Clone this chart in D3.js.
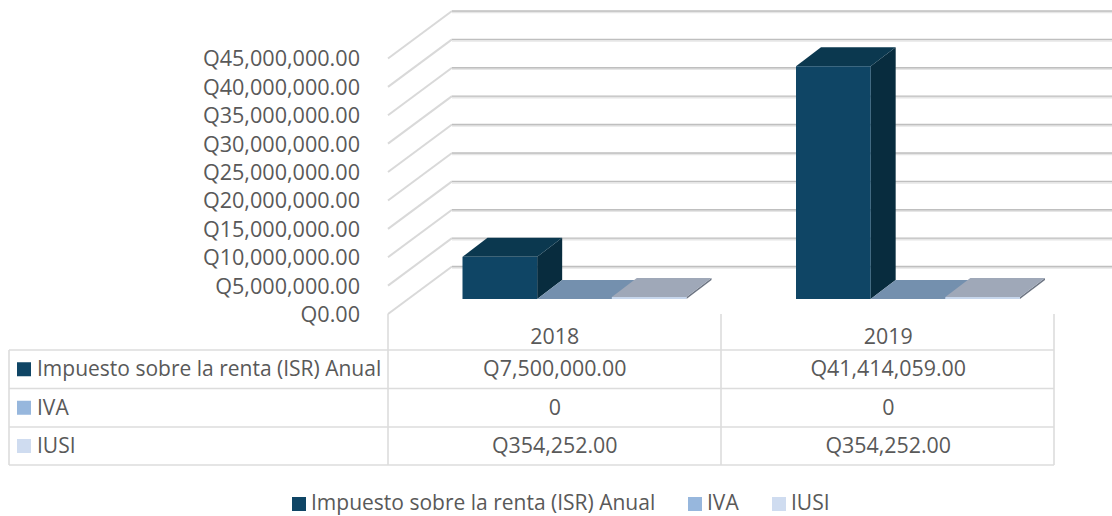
<!DOCTYPE html>
<html><head><meta charset="utf-8">
<script src="https://cdn.jsdelivr.net/npm/d3@7"></script>
<style>html,body{margin:0;padding:0;background:#fff}svg{display:block}text{font-family:"Open Sans",sans-serif;fill:#595959}</style>
</head><body><svg id="c" width="1112" height="516"></svg>
<script>
const categories=["2018","2019"];
const seriesNames=["Impuesto sobre la renta (ISR) Anual","IVA","IUSI"];
const isr=[7500000,41414059];
const iva=[0,0];
const iusi=[354252,354252];
const isrLabels=["Q7,500,000.00","Q41,414,059.00"];
const ivaLabels=["0","0"];
const iusiLabels=["Q354,252.00","Q354,252.00"];
const tickValues=[0,5e6,10e6,15e6,20e6,25e6,30e6,35e6,40e6,45e6];
const colors=["#0f4565","#97b7dd","#cfdcf0"];
const tops=["#0b384f","#7490ae","#9fa8b8"];
const sides=["#082c3e","#5f7690","#6d7583"];
const fronts=["#0f4565","#7f9fc4","#c6d6ec"];

const svg=d3.select("#c");
const fs=21, fsNum=21.4;
const left=388,right=1054,front0=314,frontTop=58.5,dx=64,dy=-47.5;
const y=d3.scaleLinear().domain([0,45e6]).range([front0,frontTop]);
const x=d3.scaleBand().domain(categories).range([left,right+1]);
const sx=d3.scaleBand().domain(seriesNames).range([74.5,298.5]);
const grid="#dcdcdc";

// walls
const g=svg.append("g");
tickValues.forEach(t=>{
  const yf=y(t),yb=yf+dy;
  g.append("path").attr("d",`M${left},${yf}L${left+dx},${yb}`).attr("fill","none").attr("stroke","#d9d9d9").attr("stroke-width",2);
  g.append("line").attr("x1",left+dx).attr("x2",1112).attr("y1",yb+1.2).attr("y2",yb+1.2).attr("stroke","#e6e6e6").attr("stroke-width",2.2);
  g.append("line").attr("x1",left+dx).attr("x2",1112).attr("y1",yb).attr("y2",yb).attr("stroke","#bfbfbf").attr("stroke-width",1.4);
});

// axis labels
const ax=svg.append("g").attr("transform","translate(360,0.5)").call(
  d3.axisLeft(y).tickValues(tickValues).tickSize(0).tickPadding(0)
    .tickFormat(d=>d===0?"Q0.00":"Q"+d3.format(",.2f")(d)));
ax.select(".domain").remove();
ax.selectAll("text").attr("font-size",21.6).style("font-family",'"Open Sans",sans-serif').style("fill","#595959");

// bars
const floorY=299,barDx=25,barDy=-19,pxPerUnit=5.62/1e6;
const series=[isr,iva,iusi];
series.forEach((vals,s)=>{
  vals.forEach((v,c)=>{
    const x0=x(categories[c])+sx(seriesNames[s]),w=sx.bandwidth();
    const h=v*pxPerUnit,t=floorY-h;
    const b=svg.append("g");
    b.append("path").attr("d",`M${x0+w},${t}L${x0+w+barDx},${t+barDy}L${x0+w+barDx},${floorY+barDy}L${x0+w},${floorY}Z`).attr("fill",sides[s]);
    b.append("path").attr("d",`M${x0},${t}L${x0+barDx},${t+barDy}L${x0+w+barDx},${t+barDy}L${x0+w},${t}Z`).attr("fill",tops[s]);
    if(h>0)b.append("rect").attr("x",x0).attr("y",t).attr("width",w).attr("height",h).attr("fill",fronts[s]);
  });
});

// data table
const rowsY=[350,388.5,427,465];
const tableLeft=9;
const line=(x1,y1,x2,y2)=>svg.append("line").attr("x1",x1).attr("y1",y1).attr("x2",x2).attr("y2",y2).attr("stroke",grid).attr("stroke-width",1.6);
rowsY.forEach(r=>line(tableLeft,r,right,r));
line(tableLeft,350,tableLeft,465);
[left,left+(right-left)/2,right].forEach(v=>line(v,314,v,465));
categories.forEach(c=>svg.append("text").attr("x",x(c)+x.bandwidth()/2).attr("y",344).attr("text-anchor","middle").attr("font-size",fsNum).text(c));
const tableLabels=[isrLabels,ivaLabels,iusiLabels];
seriesNames.forEach((n,i)=>{
  const mid=(rowsY[i]+rowsY[i+1])/2;
  svg.append("rect").attr("x",17).attr("y",mid-7).attr("width",14).attr("height",14).attr("fill",colors[i]);
  svg.append("text").attr("x",37).attr("y",mid+7).attr("font-size",fs).text(n);
  categories.forEach((c,j)=>svg.append("text").attr("x",x(c)+x.bandwidth()/2).attr("y",mid+7).attr("text-anchor","middle").attr("font-size",fsNum).text(tableLabels[i][j]));
});

// legend
const legendSwatch=[292,688,772];
const legendText=[311,707,791];
seriesNames.forEach((n,i)=>{
  svg.append("rect").attr("x",legendSwatch[i]).attr("y",497).attr("width",14).attr("height",14).attr("fill",colors[i]);
  svg.append("text").attr("x",legendText[i]).attr("y",509.5).attr("font-size",fs).text(n);
});
</script></body></html>
